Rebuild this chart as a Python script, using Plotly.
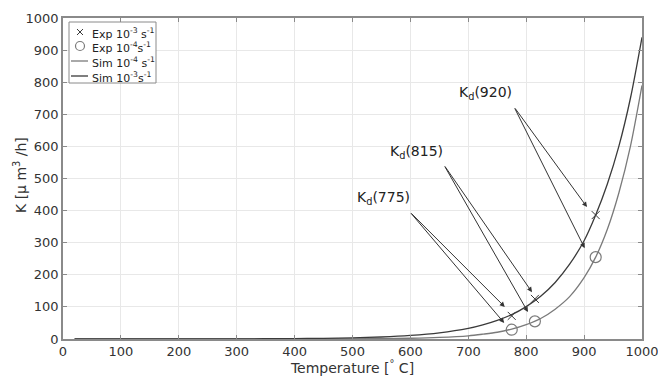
import plotly.graph_objects as go

# Experimental points
exp_T = [775, 815, 920]
exp_fast = [72, 125, 386]     # 10^-3 s^-1
exp_slow = [29, 55, 255]      # 10^-4 s^-1

# Simulated curves
sim_T = [20, 100, 200, 300, 400, 450, 500, 550, 600, 650, 700, 725, 750, 775,
         800, 825, 850, 875, 900, 920, 940, 960, 980, 1000]
sim_fast = [0.0, 0.05, 0.15, 0.4, 1.2, 2.1, 3.6, 6.3, 11, 19, 33, 44, 58, 76,
            101, 133, 176, 233, 306, 386, 482, 600, 750, 940]
sim_slow = [0.0, 0.01, 0.02, 0.04, 0.15, 0.3, 0.6, 1.2, 2.4, 5, 10, 15, 21, 31,
            45, 64, 93, 132, 191, 255, 341, 455, 600, 790]

x_ticks = [0, 100, 200, 300, 400, 500, 600, 700, 800, 900, 1000]
y_ticks = [0, 100, 200, 300, 400, 500, 600, 700, 800, 900, 1000]

legend_names = ["Exp 10<sup>-3</sup> s<sup>-1</sup>", "Exp 10<sup>-4</sup>s<sup>-1</sup>",
                "Sim 10<sup>-4</sup> s<sup>-1</sup>", "Sim 10<sup>-3</sup>s<sup>-1</sup>"]

# Labels: (text, text_x, text_y, tail_x, tail_y, [(head_x, head_y), ...])
labels = [
    ("K<sub>d</sub>(775)", 553, 439, 599, 396, [(763, 100), (762, 50)]),
    ("K<sub>d</sub>(815)", 611, 583, 658, 542, [(810, 146), (803, 84)]),
    ("K<sub>d</sub>(920)", 729, 766, 779, 723, [(905, 411), (901, 283)]),
]

dark = "#3a3a3a"
light = "#7a7a7a"
font = "DejaVu Sans"

W, H = 658, 376
ML, MR, MT, MB = 63, 16, 18, 37
PW, PH = W - ML - MR, H - MT - MB


def px(x):
    return (x - ML) / PW


def py(y):
    return (H - MB - y) / PH


fig = go.Figure()
fig.add_trace(go.Scatter(x=exp_T, y=exp_fast, mode="markers", name=legend_names[0],
                         marker=dict(symbol="x-thin-open", size=8, color=dark,
                                     line=dict(width=1, color=dark))))
fig.add_trace(go.Scatter(x=exp_T, y=exp_slow, mode="markers", name=legend_names[1],
                         marker=dict(symbol="circle-open", size=11, color=light,
                                     line=dict(width=1.2, color=light))))
fig.add_trace(go.Scatter(x=sim_T, y=sim_slow, mode="lines", name=legend_names[2],
                         line=dict(color=light, width=1.3, shape="spline", smoothing=0.8)))
fig.add_trace(go.Scatter(x=sim_T, y=sim_fast, mode="lines", name=legend_names[3],
                         line=dict(color=dark, width=1.3, shape="spline", smoothing=0.8)))

for text, tx, ty, ax_, ay_, heads in labels:
    fig.add_annotation(x=tx, y=ty, text=text, showarrow=False, xref="x", yref="y",
                       font=dict(size=14, color="#222222", family=font))
    for hx, hy in heads:
        fig.add_annotation(x=hx, y=hy, ax=ax_, ay=ay_, axref="x", ayref="y",
                           xref="x", yref="y", text="", showarrow=True,
                           arrowhead=2, arrowsize=1, arrowwidth=1, arrowcolor="#333333",
                           standoff=0, startstandoff=0)

# Compact hand-built legend (paper coordinates)
shapes = [dict(type="rect", xref="paper", yref="paper", x0=px(69), x1=px(156), y0=py(83), y1=py(22),
               line=dict(color="#8a8a8a", width=1), fillcolor="white", layer="above")]
rows = [32, 46, 61, 76]
# x marker
shapes += [dict(type="line", xref="paper", yref="paper", x0=px(77), x1=px(83), y0=py(rows[0] - 3), y1=py(rows[0] + 3),
                line=dict(color=dark, width=1), layer="above"),
           dict(type="line", xref="paper", yref="paper", x0=px(77), x1=px(83), y0=py(rows[0] + 3), y1=py(rows[0] - 3),
                line=dict(color=dark, width=1), layer="above")]
# circle marker
shapes.append(dict(type="circle", xref="paper", yref="paper", x0=px(75.5), x1=px(84.5),
                   y0=py(rows[1] + 4.5), y1=py(rows[1] - 4.5), line=dict(color=light, width=1.2), layer="above"))
# line samples
shapes.append(dict(type="line", xref="paper", yref="paper", x0=px(71), x1=px(88), y0=py(rows[2]), y1=py(rows[2]),
                   line=dict(color=light, width=1.3), layer="above"))
shapes.append(dict(type="line", xref="paper", yref="paper", x0=px(71), x1=px(88), y0=py(rows[3]), y1=py(rows[3]),
                   line=dict(color=dark, width=1.3), layer="above"))
for name, r in zip(legend_names, rows):
    fig.add_annotation(x=px(90), y=py(r + 1), xref="paper", yref="paper", text=name, showarrow=False,
                       xanchor="left", yanchor="middle", font=dict(size=11, color="#222222", family=font))

# y-axis title placed as rotated text
fig.add_annotation(x=px(20), y=py(175), xref="paper", yref="paper", text="K [μ m<sup>3</sup> /h]",
                   showarrow=False, textangle=-90, xanchor="center", yanchor="middle",
                   font=dict(size=14, color="#333333", family=font))

axis_common = dict(showgrid=True, gridcolor="#e8e8e8", gridwidth=1, zeroline=False,
                   showline=True, linecolor="#8a8a8a", linewidth=1.5, mirror="ticks",
                   ticks="inside", ticklen=4, tickcolor="#8a8a8a",
                   ticklabeloverflow="allow", automargin=False,
                   tickfont=dict(size=13, color="#333333", family=font))

fig.update_xaxes(range=[0, 1000], tickvals=x_ticks, title=dict(text="Temperature [<sup>°</sup> C]",
                 font=dict(size=14, color="#333333", family=font), standoff=4), **axis_common)
fig.update_yaxes(range=[0, 1000], tickvals=y_ticks, **axis_common)

fig.update_layout(
    width=W, height=H,
    margin=dict(l=ML, r=MR, t=MT, b=MB),
    paper_bgcolor="white", plot_bgcolor="white",
    font=dict(family=font),
    showlegend=False,
    shapes=shapes,
)

fig.write_html("out.html")
